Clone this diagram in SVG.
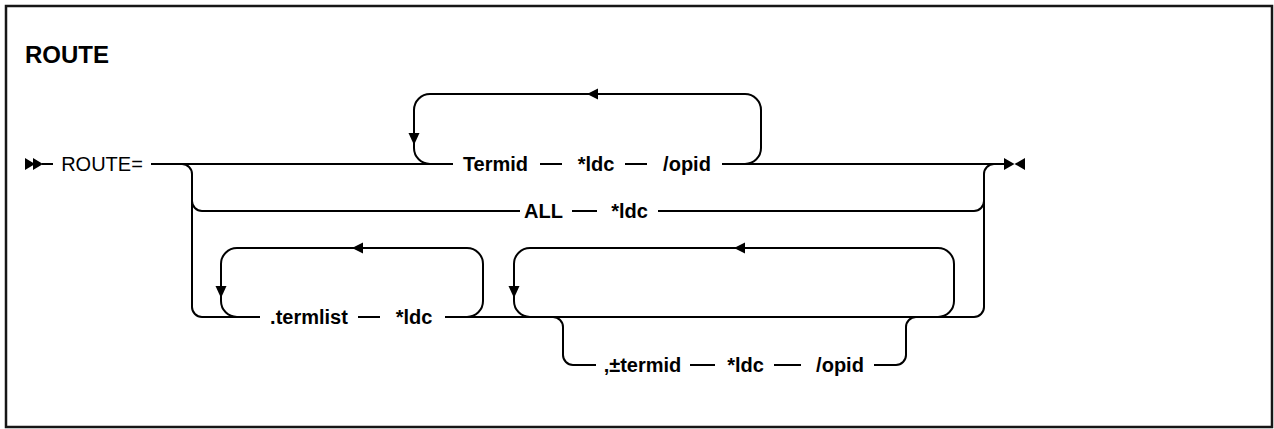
<svg xmlns="http://www.w3.org/2000/svg" width="1274" height="429" viewBox="0 0 1274 429">
<style>
.ln{fill:none;stroke:#000;stroke-width:2;stroke-linejoin:round}
.ah{fill:#000;stroke:none}
.t{font-family:"Liberation Sans",Arial,sans-serif;font-size:20px;font-weight:bold;fill:#000;text-anchor:middle}
.r{font-weight:normal}
.h{font-family:"Liberation Sans",Arial,sans-serif;font-size:24px;font-weight:bold;fill:#000}
</style>
<rect x="6" y="6" width="1266" height="421" fill="#fff" stroke="#161616" stroke-width="2.5"/>
<text class="h" x="25" y="63">ROUTE</text>
<g id="connectors">
<path class="ah" d="M25,158 L35,164 L25,170 Z M33,158 L43,164 L33,170 Z"/>
<path class="ln" d="M42,164 H53"/>
<path class="ln" d="M151,164 H453 M540,164 H562 M625,164 H647 M722,164 H1004"/>
<path class="ah" d="M1004,158 L1014.5,164 L1004,170 Z M1025,158 L1014.5,164 L1025,170 Z"/>
<path class="ln" d="M745,164 A16,16 0 0 0 761,148 V110 A16,16 0 0 0 745,94 H430 A16,16 0 0 0 414,110 V148 A16,16 0 0 0 430,164"/>
<path class="ah" d="M587,94 L598,88.5 L598,99.5 Z"/>
<path class="ah" d="M414,145 L408.5,133 L419.5,133 Z"/>
<path class="ln" d="M182,164 A10,10 0 0 1 192,174 V307 A10,10 0 0 0 202,317 H260"/>
<path class="ln" d="M192,201 A10,10 0 0 0 202,211 H520 M572,211 H597 M658,211 H974 A10,10 0 0 0 984,201"/>
<path class="ln" d="M984,307 V174 A10,10 0 0 1 994,164"/>
<path class="ln" d="M358,317 H380 M445,317 H974 A10,10 0 0 0 984,307"/>
<path class="ln" d="M467,317 A16,16 0 0 0 483,301 V264 A16,16 0 0 0 467,248 H237 A16,16 0 0 0 221,264 V301 A16,16 0 0 0 237,317"/>
<path class="ah" d="M352,248 L363,242.5 L363,253.5 Z"/>
<path class="ah" d="M221,298 L215.5,286 L226.5,286 Z"/>
<path class="ln" d="M938,317 A16,16 0 0 0 954,301 V264 A16,16 0 0 0 938,248 H530 A16,16 0 0 0 514,264 V301 A16,16 0 0 0 530,317"/>
<path class="ah" d="M734,248 L745,242.5 L745,253.5 Z"/>
<path class="ah" d="M514,298 L508.5,286 L519.5,286 Z"/>
<path class="ln" d="M553,317 A10,10 0 0 1 563,327 V355 A10,10 0 0 0 573,365 H596 M690,365 H715 M774,365 H801 M874,365 H896 A10,10 0 0 0 906,355 V327 A10,10 0 0 1 916,317"/>
</g>
<g id="n-route"><text class="t r" x="102" y="171">ROUTE=</text></g>
<g id="n-termid"><text class="t" x="495.5" y="171">Termid</text></g>
<g id="n-ldc1"><text class="t" x="596" y="171">*ldc</text></g>
<g id="n-opid1"><text class="t" x="687" y="171">/opid</text></g>
<g id="n-all"><text class="t" x="543.5" y="218">ALL</text></g>
<g id="n-ldc2"><text class="t" x="629.5" y="218">*ldc</text></g>
<g id="n-termlist"><text class="t" x="309" y="324">.termlist</text></g>
<g id="n-ldc3"><text class="t" x="414" y="324">*ldc</text></g>
<g id="n-ptermid"><text class="t" x="642.5" y="372">,±termid</text></g>
<g id="n-ldc4"><text class="t" x="745.5" y="372">*ldc</text></g>
<g id="n-opid2"><text class="t" x="840" y="372">/opid</text></g>
</svg>
